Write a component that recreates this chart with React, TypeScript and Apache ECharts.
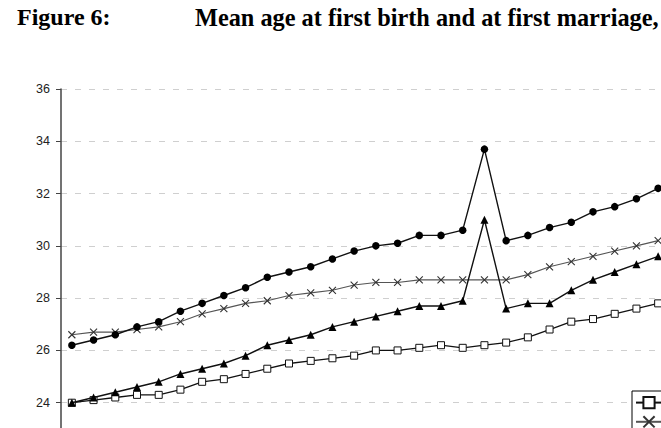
import React, { useEffect, useRef } from "react";
import * as echarts from "echarts";

const years = [
  "1970", "1971", "1972", "1973", "1974", "1975", "1976", "1977", "1978", "1979",
  "1980", "1981", "1982", "1983", "1984", "1985", "1986", "1987", "1988", "1989",
  "1990", "1991", "1992", "1993", "1994", "1995", "1996", "1997",
];

const yTicks = [22, 24, 26, 28, 30, 32, 34, 36];

const birthWomen = [
  24.0, 24.1, 24.2, 24.3, 24.3, 24.5, 24.8, 24.9, 25.1, 25.3,
  25.5, 25.6, 25.7, 25.8, 26.0, 26.0, 26.1, 26.2, 26.1, 26.2,
  26.3, 26.5, 26.8, 27.1, 27.2, 27.4, 27.6, 27.8,
];

const birthMen = [
  26.6, 26.7, 26.7, 26.8, 26.9, 27.1, 27.4, 27.6, 27.8, 27.9,
  28.1, 28.2, 28.3, 28.5, 28.6, 28.6, 28.7, 28.7, 28.7, 28.7,
  28.7, 28.9, 29.2, 29.4, 29.6, 29.8, 30.0, 30.2,
];

const marriageWomen = [
  24.0, 24.2, 24.4, 24.6, 24.8, 25.1, 25.3, 25.5, 25.8, 26.2,
  26.4, 26.6, 26.9, 27.1, 27.3, 27.5, 27.7, 27.7, 27.9, 31.0,
  27.6, 27.8, 27.8, 28.3, 28.7, 29.0, 29.3, 29.6,
];

const marriageMen = [
  26.2, 26.4, 26.6, 26.9, 27.1, 27.5, 27.8, 28.1, 28.4, 28.8,
  29.0, 29.2, 29.5, 29.8, 30.0, 30.1, 30.4, 30.4, 30.6, 33.7,
  30.2, 30.4, 30.7, 30.9, 31.3, 31.5, 31.8, 32.2,
];

const seriesNames = [
  "Mean age at first birth, women",
  "Mean age at first birth, men",
  "Mean age at first marriage, women",
  "Mean age at first marriage, men",
];

const titleLeft = "Figure 6:";
const titleRight = "Mean age at first birth and at first marriage,";

const crossPath = "path://M0,0L10,10M10,0L0,10";

export default function App() {
  const ref = useRef<HTMLDivElement>(null);

  useEffect(() => {
    if (!ref.current) return;
    const chart = echarts.init(ref.current, undefined, { renderer: "svg" });
    const titleStyle = {
      fontFamily: "Liberation Serif",
      fontWeight: "bold" as const,
      fontSize: 24,
      color: "#000",
    };
    chart.setOption({
      animation: false,
      backgroundColor: "#fff",
      title: [
        { text: titleLeft, left: 12, top: 0, textStyle: titleStyle },
        {
          text: titleRight,
          left: 190,
          top: 0,
          textStyle: { ...titleStyle, fontSize: 24.3 },
        },
      ],
      legend: {
        orient: "vertical",
        left: 632,
        top: 391,
        padding: [5, 3, 5, 3],
        itemWidth: 26,
        itemHeight: 14,
        itemGap: 6,
        borderColor: "#000",
        borderWidth: 1,
        backgroundColor: "#fff",
        textStyle: { fontFamily: "Liberation Sans", fontSize: 11, color: "#000" },
        data: seriesNames,
      },
      grid: {
        left: 61,
        top: 89,
        right: 31,
        bottom: 15,
        containLabel: false,
        outerBoundsMode: "none",
      },
      xAxis: {
        type: "category",
        data: years,
        boundaryGap: true,
        axisLine: { lineStyle: { color: "#444", width: 1.5 } },
        axisTick: { show: false },
        axisLabel: { fontFamily: "Liberation Sans", fontSize: 12, color: "#222" },
      },
      yAxis: {
        type: "value",
        min: yTicks[0],
        max: yTicks[yTicks.length - 1],
        interval: 2,
        axisLine: { show: true, lineStyle: { color: "#444", width: 1.5 } },
        axisTick: { show: true, length: 5, lineStyle: { color: "#444", width: 1 } },
        axisLabel: {
          fontFamily: "Liberation Sans",
          fontSize: 12.5,
          color: "#222",
          margin: 11,
        },
        splitLine: {
          show: true,
          lineStyle: { color: "#cfcfcf", width: 1, type: [6, 8] },
        },
      },
      series: [
        {
          name: seriesNames[0],
          type: "line",
          data: birthWomen,
          symbol: "rect",
          symbolSize: 7,
          lineStyle: { color: "#111", width: 1.3 },
          itemStyle: { color: "#fff", borderColor: "#111", borderWidth: 1 },
          z: 2,
        },
        {
          name: seriesNames[1],
          type: "line",
          data: birthMen,
          symbol: crossPath,
          symbolSize: 7,
          lineStyle: { color: "#555", width: 1.1 },
          itemStyle: { color: "rgba(0,0,0,0)", borderColor: "#333", borderWidth: 1.1 },
          z: 2,
        },
        {
          name: seriesNames[2],
          type: "line",
          data: marriageWomen,
          symbol: "triangle",
          symbolSize: 8,
          lineStyle: { color: "#111", width: 1.4 },
          itemStyle: { color: "#000" },
          z: 3,
        },
        {
          name: seriesNames[3],
          type: "line",
          data: marriageMen,
          symbol: "circle",
          symbolSize: 7.5,
          lineStyle: { color: "#111", width: 1.4 },
          itemStyle: { color: "#000" },
          z: 4,
        },
      ],
    });
    return () => chart.dispose();
  }, []);

  return (
    <div
      ref={ref}
      style={{ position: "fixed", left: 0, top: 0, width: 700, height: 470 }}
    />
  );
}
